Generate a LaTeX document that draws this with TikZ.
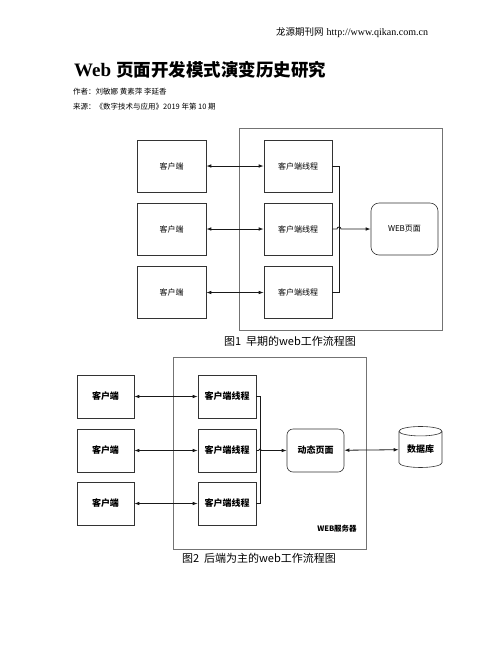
\documentclass[tikz,border=0pt]{standalone}
\usepackage{fontspec}
\setmainfont{Liberation Serif}
\newfontfamily\cjk{Noto Sans CJK SC}
\usetikzlibrary{arrows.meta,shapes.geometric,calc}
\tikzset{
  box/.style={draw=black!80,line width=0.6pt,inner sep=0pt,font=\cjk\fontsize{8}{9}\selectfont},
  boxb/.style={draw=black!80,line width=0.6pt,inner sep=0pt,font=\cjk\bfseries\fontsize{9}{10}\selectfont},
  frame/.style={draw=black!55,line width=0.7pt},
  conn/.style={draw=black!90,line width=0.8pt},
  dbl/.style={conn,{Latex[length=5pt,width=3.6pt]}-{Latex[length=5pt,width=3.6pt]}},
  one/.style={conn,-{Latex[length=5pt,width=3.6pt]}},
  figcap/.style={font=\cjk\fontsize{11}{13}\selectfont,inner sep=0pt}
}
\begin{document}
\begin{tikzpicture}[x=1pt,y=-1pt]
\useasboundingbox (0,0) rectangle (502,649);
% header
\node[anchor=west,inner sep=0pt] (hdr) at (276,33) {{\cjk\fontsize{9.5}{11}\selectfont 龙源期刊网}\hspace{3pt}{\fontsize{10}{12}\selectfont http://www.qikan.com.cn}};
\node[anchor=west,inner sep=0pt] (title) at (74,70) {{\bfseries\fontsize{19}{21}\selectfont Web}\hspace{5pt}{\cjk\bfseries\fontsize{17.5}{21}\selectfont 页面开发模式演变历史研究}};
\node[anchor=west,inner sep=0pt,font=\cjk\fontsize{7.5}{8}\selectfont] (auth) at (73,92) {作者：刘敏娜 黄素萍 李延香};
\node[anchor=west,inner sep=0pt,font=\cjk\fontsize{7.5}{8}\selectfont] (src) at (73,107) {来源：《数字技术与应用》2019 年第 10 期};

% ---------- Figure 1 ----------
\draw[frame] (239,128) rectangle (442,330);
\foreach \i/\y in {1/166,2/229,3/292.5}{
  \node[box,minimum width=69,minimum height=52] (c\i) at (171.5,\y) {客户端};
  \node[box,minimum width=68,minimum height=52] (t\i) at (298,\y) {客户端线程};
}
\node[box,rounded corners=8pt,minimum width=67,minimum height=52] (web) at (404.5,229) {WEB页面};
\foreach \i in {1,2,3}{ \draw[dbl] (c\i) -- (t\i); }
\coordinate (vx) at (339,229);
\draw[conn,line width=0.6pt] (t1.east) -- (t1.east -| vx) |- (t3.east);
\draw[one] (t2.east) -- ($(vx)+(-2,0)$) arc[start angle=180,end angle=360,radius=2] -- (web.west);
\node[figcap] (cap1) at (290,341) {图1\ \ 早期的web工作流程图};

% ---------- Figure 2 ----------
\draw[frame] (173,357) rectangle (366,549);
\foreach \i/\y in {1/396.5,2/450.5,3/503.5}{
  \node[boxb,minimum width=57,minimum height=43] (d\i) at (105.5,\y) {客户端};
  \node[boxb,minimum width=58,minimum height=43] (s\i) at (227,\y) {客户端线程};
}
\node[boxb,rounded corners=6pt,minimum width=57,minimum height=43] (dyn) at (315.5,450.5) {动态页面};
\node[boxb,cylinder,shape border rotate=90,aspect=0.35,minimum width=43,minimum height=41] (db) at (420.5,449.5) {数据库};
\foreach \i in {1,2,3}{ \draw[dbl] (d\i) -- (s\i); }
\coordinate (vy) at (260,450.5);
\draw[conn,line width=0.6pt] (s1.east) -- (s1.east -| vy) |- (s3.east);
\draw[one] (s2.east) -- ($(vy)+(-1.5,0)$) arc[start angle=180,end angle=360,radius=1.5] -- (dyn.west);
\draw[dbl] (dyn) -- (db);
\node[inner sep=0pt,font=\cjk\bfseries\fontsize{7.5}{8}\selectfont] (srv) at (337,529) {WEB服务器};
\node[figcap] (cap2) at (259,558) {图2\ \ 后端为主的web工作流程图};
\end{tikzpicture}
\end{document}
